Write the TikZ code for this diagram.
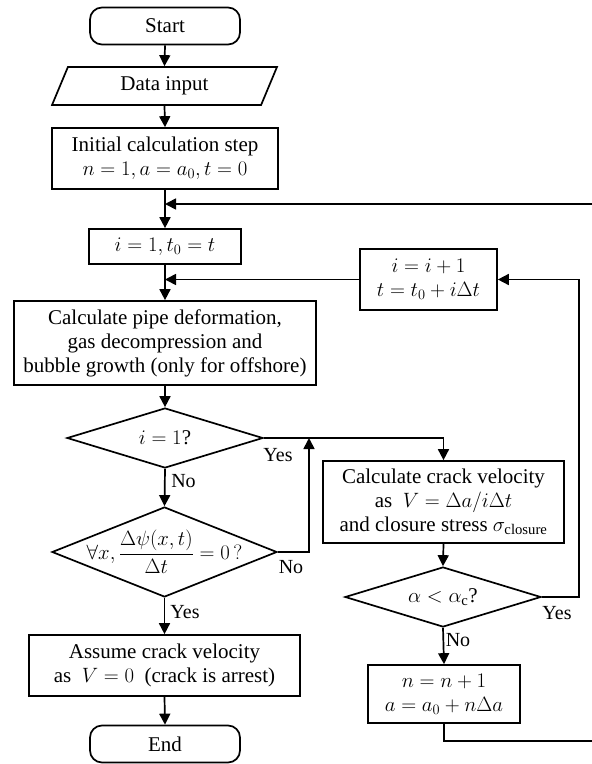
\documentclass[tikz,border=0pt]{standalone}
\usepackage{fontspec}
\setmainfont{Liberation Serif}
\usetikzlibrary{arrows.meta,shapes.geometric}
\begin{document}
\begin{tikzpicture}[x=1pt,y=-1pt,
  every node/.style={font=\fontsize{21}{24}\selectfont, inner sep=0pt, align=center},
  box/.style={draw, line width=1.7pt, rectangle},
  term/.style={draw, line width=1.7pt, rectangle, rounded corners=12pt, minimum width=150pt, minimum height=37pt},
  dia/.style={draw, line width=1.7pt, diamond},
  io/.style={draw, line width=1.7pt, trapezium, trapezium left angle=68.5, trapezium right angle=111.5, trapezium stretches=true, minimum width=225pt, minimum height=38pt},
  flow/.style={line width=1.7pt, -{Triangle[length=11pt,width=11pt]}},
  lbl/.style={font=\fontsize{20}{22}\selectfont}
]
\useasboundingbox (0,0) rectangle (592,764);

% left column
\node[term] (start) at (165,26) {Start};
\node[io] (data) at (164.5,86) {Data input};
\node[box, minimum width=226pt, minimum height=61pt] (init) at (165,158.5) {Initial calculation step\\ $n = 1, a = a_0, t = 0$};
\node[box, minimum width=152pt, minimum height=35pt] (ione) at (165,246.5) {$i = 1, t_0 = t$};
\node[box, minimum width=302pt, minimum height=84pt] (pipe) at (165,343) {Calculate pipe deformation,\\ gas decompression and\\ bubble growth (only for offshore)};
\node[dia, minimum width=196pt, minimum height=60pt] (d1) at (165,438) {};
\node (d1t) at (d1.center) {$i = 1$?};
\node[dia, minimum width=225pt, minimum height=90pt] (d2) at (164.5,552) {};
\node (d2t) at (d2.center) {$\forall x, {\displaystyle\frac{\Delta\psi(x,t)}{\Delta t}} = 0\,?$};
\node[box, minimum width=271pt, minimum height=61pt] (assume) at (164.5,665.5) {Assume crack velocity\\ as\ \ $V = 0$\ \ (crack is arrest)};
\node[term] (end) at (165,744) {End};

% right column
\node[box, minimum width=137pt, minimum height=61pt] (inc) at (428.5,279.5) {$i = i + 1$\\ $t = t_0 + i\Delta t$};
\node[box, minimum width=241pt, minimum height=82pt] (crack) at (443.5,502) {Calculate crack velocity\\ as\ \ $V = \Delta a/i\Delta t$\\ and closure stress $\sigma_{\mathrm{closure}}$};
\node[dia, minimum width=196pt, minimum height=60pt] (d3) at (443,597) {};
\node (d3t) at (d3.center) {$\alpha < \alpha_{\mathrm{c}}$?};
\node[box, minimum width=152pt, minimum height=58pt] (nbox) at (444,694) {$n = n + 1$\\ $a = a_0 + n\Delta a$};

% junctions
\coordinate (j1) at (165,204);
\coordinate (j2) at (165,279.5);
\coordinate (j3) at (309,438);

% connectors
\draw[flow] (start.south) -- (data.north);
\draw[flow] (data.south) -- (init.north);
\draw[flow] (init.south) -- (ione.north);
\draw[flow] (ione.south) -- (pipe.north);
\draw[flow] (pipe.south) -- (d1.north);
\draw[flow] (d1.south) -- (d2.north);
\draw[flow] (d2.south) -- (assume.north);
\draw[flow] (assume.south) -- (end.north);
\draw[flow] (d1.east) -| (crack.north);
\draw[flow] (d2.east) -| (j3);
\draw[flow] (crack.south) -- (d3.north);
\draw[flow] (d3.south) -- (nbox.north);
\draw[flow] (d3.east) -| (579,279.5) -- (inc.east);
\draw[flow] (inc.west) -- (j2);
\draw[flow] (nbox.south) |- (593,741) |- (j1);

% labels
\node[lbl] (yes1) at (278,455) {Yes};
\node[lbl] (no1) at (183.5,481) {No};
\node[lbl] (no2) at (291,567) {No};
\node[lbl] (yes2) at (185,612) {Yes};
\node[lbl] (yes3) at (557,613) {Yes};
\node[lbl] (no3) at (458,640) {No};
\end{tikzpicture}
\end{document}
